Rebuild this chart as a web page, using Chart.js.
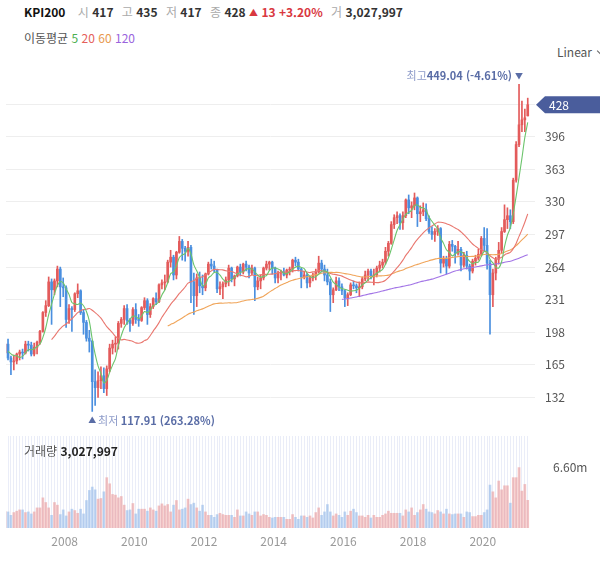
<!DOCTYPE html>
<html lang="ko">
<head>
<meta charset="utf-8">
<title>KPI200</title>
<script src="https://cdn.jsdelivr.net/npm/chart.js@4.4.1/dist/chart.umd.min.js"></script>
<style>
  body { margin: 0; width: 600px; height: 561px; overflow: hidden; background: #fff; position: relative;
         font-family: 'Noto Sans CJK KR', 'Noto Sans', sans-serif; }
  .hdr { position: absolute; left: 24px; top: 3px; font-size: 12px; color: #333; white-space: nowrap; }
  .hdr .name { font-weight: 700; color: #111; margin-right: 4px; }
  .hdr .k { color: #aaa; margin-left: 5px; }
  .hdr b { font-weight: 700; color: #333; }
  .hdr .up { color: #d9383f; font-weight: 700; }
  .hdr .tri { font-size: 9px; position: relative; top: -1px; }
  .ma { position: absolute; left: 24px; top: 29px; font-size: 12px; color: #555; white-space: nowrap; }
  .scale { position: absolute; left: 557px; top: 43px; font-size: 12px; color: #555; white-space: nowrap; }
  .chev { display: inline-block; width: 5px; height: 5px; border-right: 1px solid #666; border-bottom: 1px solid #666;
          transform: rotate(45deg); margin-left: 6px; position: relative; top: -3px; }
  #mainBox { position: absolute; left: 0; top: 60px; width: 600px; height: 370px; }
  #volBox { position: absolute; left: 0; top: 432px; width: 600px; height: 129px; }
  .vlabel { position: absolute; left: 24px; top: 442px; font-size: 12px; color: #555; white-space: nowrap; }
  .vlabel b { color: #222; }
</style>
</head>
<body>
<div class="hdr"><span class="name">KPI200</span>
  <span class="k">시</span> <b>417</b>
  <span class="k">고</span> <b>435</b>
  <span class="k">저</span> <b>417</b>
  <span class="k">종</span> <b>428</b>
  <span class="up"><span class="tri">▲</span> 13 +3.20%</span>
  <span class="k">거</span> <b>3,027,997</b></div>
<div class="ma">이동평균 <span style="color:#4caf50">5</span> <span style="color:#e5605a">20</span> <span style="color:#e8994f">60</span> <span style="color:#9a64dd">120</span></div>
<div class="scale">Linear<span class="chev"></span></div>
<div id="mainBox"><canvas id="priceChart"></canvas></div>
<div id="volBox"><canvas id="volumeChart"></canvas></div>
<div class="vlabel">거래량 <b>3,027,997</b></div>

<script>
// monthly candles, Jan 2006 .. Apr 2021 (first four months are off screen, used for the MAs)
let open = [
  176,182,178,177,186,172,168,169,176,178,177,186,
  185,176,183,188,199,218,225,249,241,250,262,244,
  243,211,222,221,237,240,218,208,192,189,148,142,
  149,154,141,161,182,186,187,207,211,222,210,207,
  221,211,210,223,230,216,224,232,229,246,248,249,
  269,274,256,279,290,283,280,284,249,235,253,245,
  243,257,267,265,261,242,244,247,251,263,252,255,
  264,259,267,264,258,263,244,250,253,263,267,269,
  263,253,258,259,256,261,262,271,269,262,254,256,
  248,253,256,259,268,262,256,249,236,241,250,244,
  240,233,236,246,245,243,244,252,256,260,254,256,
  263,266,269,280,288,307,314,316,309,316,332,324,
  326,334,318,320,322,313,300,297,300,303,268,272,
  265,287,285,278,282,266,276,265,260,270,273,277,
  293,286,268,236,258,272,281,300,312,316,310,352,
  388,408,413,417
];
let high = [
  185,184,182,189,191,174,175,177,180,181,189,189,
  188,187,189,200,219,230,254,252,252,265,264,253,
  245,226,224,238,247,241,221,210,200,190,160,158,
  163,162,164,186,190,193,209,213,225,226,212,223,
  227,216,224,233,232,227,233,238,247,251,256,271,
  281,276,280,295,292,285,290,286,258,257,259,256,
  258,269,272,270,262,249,249,254,266,264,256,265,
  267,268,270,266,266,264,254,256,264,270,270,270,
  264,260,261,263,262,264,272,274,272,263,260,258,
  255,258,262,275,271,266,262,252,243,254,253,247,
  241,238,248,250,247,249,254,260,262,262,262,265,
  270,272,284,290,310,317,320,318,320,333,337,330,
  339,335,326,329,328,316,305,303,306,304,275,275,
  290,291,286,290,284,279,280,267,272,276,282,295,
  304,303,271,262,274,289,304,327,324,322,354,391,
  449.04,432,424,435
];
let low = [
  172,174,172,176,170,155,160,166,170,171,176,179,
  174,174,176,186,198,214,224,206,236,244,224,234,
  203,207,199,219,233,216,196,189,178,117.91,124,132,
  141,137,134,158,176,178,181,203,206,206,199,205,
  207,204,209,221,206,213,222,226,228,242,241,248,
  264,251,252,278,271,270,275,228,216,224,238,236,
  240,256,262,259,238,236,232,244,245,249,245,254,
  255,257,260,253,256,230,241,242,251,261,261,257,
  248,248,251,255,253,256,259,265,260,243,252,243,
  244,250,251,258,259,250,246,219,228,240,240,236,
  224,225,235,242,238,234,242,250,250,252,246,254,
  259,263,267,275,287,303,308,302,302,314,318,314,
  322,305,310,316,311,298,292,290,296,258,264,257,
  263,280,268,276,260,264,262,251,258,266,271,275,
  280,262,196,224,251,267,278,299,303,303,308,350,
  386,401,401,417
];
let close = [
  182,178,177,186,172,168,169,176,178,177,186,185,
  176,183,188,199,218,225,249,241,250,262,244,243,
  211,222,221,237,240,218,208,192,189,148,142,149,
  154,141,161,182,186,187,207,211,222,210,207,221,
  211,210,223,230,216,224,232,229,246,248,249,269,
  274,256,279,290,283,280,284,249,235,253,245,243,
  257,267,265,261,242,244,247,251,263,252,255,264,
  259,267,264,258,263,244,250,253,263,267,269,263,
  253,258,259,256,261,262,271,269,262,254,256,248,
  253,256,259,268,262,256,249,236,241,250,244,240,
  233,236,246,245,243,244,252,256,260,254,256,263,
  266,269,280,288,307,314,316,309,316,332,324,326,
  334,318,320,322,313,300,297,300,303,268,272,265,
  287,285,278,282,266,276,265,260,270,273,277,293,
  286,268,236,258,272,281,300,312,316,310,352,388,
  408,413,415.06,428.34
];
// volume in millions
let volume = [
  1.90,1.75,1.62,1.80,1.76,1.39,1.69,1.84,1.98,1.98,1.69,1.76,
  1.54,1.76,2.20,2.20,3.30,2.79,2.20,1.39,2.79,2.50,1.47,1.98,
  1.32,1.76,2.06,1.91,1.61,2.06,1.54,3.01,4.11,4.48,4.18,3.16,
  3.23,3.96,5.51,4.84,3.67,3.60,3.30,3.45,2.50,1.91,1.98,2.68,
  1.54,2.06,2.06,2.06,1.84,2.20,1.98,1.84,2.42,2.64,2.42,2.57,
  1.76,2.50,3.01,1.98,2.06,2.20,3.16,2.57,2.72,2.20,1.84,2.50,
  1.76,1.39,1.39,1.17,1.47,1.61,1.47,1.39,1.39,1.39,1.17,1.98,
  1.32,1.32,1.76,1.54,1.39,1.76,1.76,1.32,1.47,1.39,1.17,1.10,
  1.17,1.17,1.17,1.17,0.95,0.95,1.47,1.17,0.95,1.32,1.32,1.17,
  1.32,1.10,1.69,2.20,1.39,1.76,2.57,1.76,1.32,1.54,1.39,1.17,
  1.76,1.39,1.84,2.06,1.69,1.32,1.32,1.17,1.39,1.10,1.39,1.17,
  1.17,1.39,1.54,1.84,1.61,1.61,1.61,1.61,1.32,1.98,1.76,2.20,
  1.39,1.69,1.98,2.57,2.06,1.76,1.69,1.54,1.91,1.76,1.54,2.06,
  1.54,1.47,1.54,1.54,1.54,1.17,1.76,1.69,1.25,1.25,1.39,1.39,
  1.69,1.98,4.70,3.96,3.30,5.14,4.18,4.62,4.62,2.72,5.51,5.51,
  6.61,4.04,4.77,3.03
];
let yTicks = [132, 165, 198, 231, 264, 297, 330, 363, 396, 429];
let volTick = 6.6;
let maPeriods = [5, 20, 60, 120];
let maColors = ["#6cc46c", "#e9776f", "#f0a55a", "#a274e6"];

const firstShown = 4;   // May 2006
const xMin = 3.3, xMax = 185.5;
const fontFamily = "'Noto Sans CJK KR', 'Noto Sans', sans-serif";
Chart.defaults.font.family = fontFamily;

const idx = close.map((_, i) => i);
const isUp = idx.map(i => close[i] >= open[i]);
const candleColor = isUp.map(u => u ? "#e35b5b" : "#4a8fdf");
const volColor = isUp.map(u => u ? "rgba(232,135,135,0.5)" : "rgba(115,165,226,0.45)");

function movingAverage(values, n) {
  return values.map((_, i) => {
    if (i < n - 1) return null;
    let s = 0;
    for (let k = i - n + 1; k <= i; k++) s += values[k];
    return s / n;
  });
}

// parts: [text, colour, weight, size]
function drawParts(ctx, parts, x, y, align) {
  const fontOf = p => p[2] + " " + (p[3] || 11) + "px " + fontFamily;
  const widths = parts.map(p => { ctx.font = fontOf(p); return ctx.measureText(p[0]).width; });
  const total = widths.reduce((a, b) => a + b, 0);
  let cx = align === "right" ? x - total : x;
  ctx.textAlign = "left";
  parts.forEach((p, k) => {
    ctx.font = fontOf(p);
    ctx.fillStyle = p[1];
    ctx.fillText(p[0], cx, y);
    cx += widths[k];
  });
}

const priceMarks = {
  id: "priceMarks",
  afterDraw(chart) {
    const { ctx, chartArea } = chart;
    const x = chart.scales.x, y = chart.scales.y;
    const last = close[close.length - 1];
    let hi = firstShown, lo = firstShown;
    for (let i = firstShown; i < close.length; i++) {
      if (high[i] > high[hi]) hi = i;
      if (low[i] < low[lo]) lo = i;
    }
    ctx.save();
    ctx.textBaseline = "middle";
    ctx.font = "normal 8px " + fontFamily;
    const arrowW = ctx.measureText("▼").width;

    const hx = x.getPixelForValue(hi), hy = y.getPixelForValue(high[hi]) - 8;
    const hiPct = ((last - high[hi]) / high[hi] * 100).toFixed(2);
    drawParts(ctx, [["최고", "#8d9bc9", "normal"],
                    [high[hi].toFixed(2) + " (" + hiPct + "%) ", "#5a6da6", "bold"],
                    ["▼", "#5a6da6", "normal", 8]], hx + arrowW / 2, hy, "right");

    const lx = x.getPixelForValue(lo), ly = y.getPixelForValue(low[lo]) + 9;
    const loPct = ((last - low[lo]) / low[lo] * 100).toFixed(2);
    drawParts(ctx, [["▲ ", "#5a6da6", "normal", 8],
                    ["최저 ", "#8d9bc9", "normal"],
                    [low[lo].toFixed(2) + " (" + loPct + "%)", "#5a6da6", "bold"]], lx - arrowW / 2, ly, "left");

    // last price tag
    const by = y.getPixelForValue(last);
    const tip = chartArea.right + 1;
    ctx.fillStyle = "#4a5d9c";
    ctx.beginPath();
    ctx.moveTo(tip, by);
    ctx.lineTo(tip + 9, by - 8.5);
    ctx.lineTo(600, by - 8.5);
    ctx.lineTo(600, by + 8.5);
    ctx.lineTo(tip + 9, by + 8.5);
    ctx.closePath();
    ctx.fill();
    ctx.fillStyle = "#fff";
    ctx.font = "normal 12px " + fontFamily;
    ctx.fillText(String(Math.round(last)), tip + 13, by + 0.5);
    ctx.restore();
  }
};

const maSets = maPeriods.map((n, k) => {
  const ma = movingAverage(close, n);
  return {
    type: "line",
    data: idx.map(i => ({ x: i, y: ma[i] })),
    borderColor: maColors[k],
    borderWidth: 1.1,
    pointRadius: 0,
    tension: 0.35,
    order: 0
  };
});

new Chart(document.getElementById("priceChart"), {
  type: "bar",
  data: {
    datasets: [
      {
        data: idx.map(i => ({ x: i, y: [low[i], high[i]] })),
        backgroundColor: candleColor,
        barThickness: 1,
        grouped: false,
        order: 3
      },
      {
        data: idx.map(i => ({ x: i, y: [open[i], close[i]] })),
        backgroundColor: candleColor,
        barThickness: 2,
        grouped: false,
        order: 2
      },
      ...maSets
    ]
  },
  options: {
    responsive: true,
    maintainAspectRatio: false,
    animation: false,
    layout: { padding: { left: 6, right: 0, top: 0, bottom: 0 } },
    plugins: { legend: { display: false }, tooltip: { enabled: false } },
    scales: {
      x: { type: "linear", min: xMin, max: xMax, offset: false, display: false },
      y: {
        position: "right",
        min: 99.1,
        max: 473.6,
        afterBuildTicks: s => { s.ticks = yTicks.map(v => ({ value: v })); },
        afterFit: s => { s.width = 65; s.paddingTop = 0; s.paddingBottom = 0; },
        grid: { color: "#eeeeee", drawTicks: false },
        border: { display: false },
        ticks: { padding: 10, color: "#555", font: { size: 12 }, callback: v => (v === 429 ? "" : v) }
      }
    }
  },
  plugins: [priceMarks]
});

new Chart(document.getElementById("volumeChart"), {
  type: "bar",
  data: {
    datasets: [{
      data: idx.map(i => ({ x: i, y: volume[i] })),
      backgroundColor: volColor,
      barThickness: 2,
      grouped: false
    }]
  },
  options: {
    responsive: true,
    maintainAspectRatio: false,
    animation: false,
    layout: { padding: { left: 6, right: 0, top: 4, bottom: 0 } },
    plugins: { legend: { display: false }, tooltip: { enabled: false } },
    scales: {
      x: {
        type: "linear",
        min: xMin,
        max: xMax,
        offset: false,
        afterBuildTicks: s => {
          const t = [];
          for (let i = firstShown; i < close.length; i++) t.push({ value: i - 0.5 });
          s.ticks = t;
        },
        afterFit: s => { s.height = 33; s.paddingLeft = 0; s.paddingRight = 0; },
        grid: { color: "rgba(208,214,240,0.45)", drawTicks: false },
        border: { display: false },
        ticks: {
          autoSkip: false,
          maxRotation: 0,
          padding: 6,
          color: "#999",
          font: { size: 12 },
          callback: v => {
            const i = Math.round(v + 0.5);
            const year = 2006 + Math.floor(i / 12);
            return i % 12 === 0 && year % 2 === 0 && year >= 2008 ? String(year) : "";
          }
        }
      },
      y: {
        position: "right",
        min: 0,
        max: 10.07,
        afterBuildTicks: s => { s.ticks = [{ value: volTick }]; },
        afterFit: s => { s.width = 65; s.paddingTop = 0; s.paddingBottom = 0; },
        grid: { display: false },
        border: { display: false },
        ticks: { padding: 10, color: "#555", font: { size: 12 }, callback: v => v.toFixed(2) + "m" }
      }
    }
  }
});
</script>
</body>
</html>
